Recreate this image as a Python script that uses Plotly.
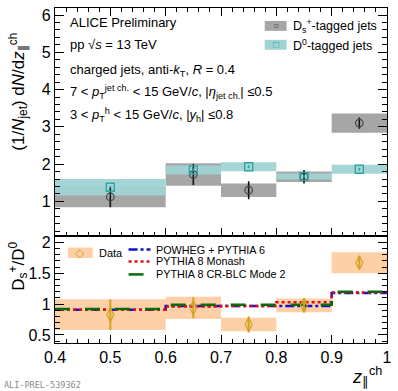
import plotly.graph_objects as go

# bins in z_||^ch
bin_lo = [0.4, 0.6, 0.7, 0.8, 0.9]
bin_hi = [0.6, 0.7, 0.8, 0.9, 1.0]
edges = [0.4, 0.6, 0.7, 0.8, 0.9, 1.0]

# top panel: normalised distributions
ds_val = [1.12, 1.72, 1.30, 1.66, 3.10]
ds_stat = [0.28, 0.28, 0.24, 0.18, 0.15]
ds_syst = [0.28, 0.30, 0.18, 0.14, 0.26]
d0_val = [1.38, 1.84, 1.93, 1.67, 1.86]
d0_stat = [0.03, 0.04, 0.04, 0.04, 0.04]
d0_syst = [0.22, 0.12, 0.12, 0.08, 0.12]

# bottom panel: Ds+/D0 ratio
ratio_val = [0.83, 0.94, 0.67, 0.98, 1.67]
ratio_stat = [0.25, 0.17, 0.13, 0.11, 0.10]
ratio_syst = [0.25, 0.18, 0.11, 0.11, 0.17]

# model predictions (step per bin)
powheg = [0.91, 0.97, 0.97, 0.97, 1.18]
monash = [0.91, 0.96, 0.97, 1.03, 1.19]
crblc = [0.92, 0.99, 0.99, 0.99, 1.20]

centers = [(a + b) / 2 for a, b in zip(bin_lo, bin_hi)]
widths = [b - a for a, b in zip(bin_lo, bin_hi)]

FONT = "Liberation Sans, Arial, sans-serif"
GRAY = "#a6a6a6"
CYAN = "#a1d3d3"
TEAL = "#2fa6a6"
ORANGE = "#fdd0a8"
GOLD = "#d4a21a"

# plot-area pixel frame (for placing text/legend)
L, R, T, B = 55, 389, 6, 343


def px(x):
    return (x - L) / (R - L)


def py(y):
    return (B - y) / (B - T)


fig = go.Figure()

# --- top panel ---
fig.add_trace(go.Bar(x=centers, y=[2 * s for s in ds_syst],
                     base=[v - s for v, s in zip(ds_val, ds_syst)],
                     width=widths, marker=dict(color=GRAY, line_width=0),
                     xaxis="x", yaxis="y"))
fig.add_trace(go.Bar(x=centers, y=[2 * s for s in d0_syst],
                     base=[v - s for v, s in zip(d0_val, d0_syst)],
                     width=widths, marker=dict(color=CYAN, line_width=0),
                     opacity=0.95, xaxis="x", yaxis="y"))
fig.add_trace(go.Scatter(x=centers, y=ds_val, mode="markers",
                         marker=dict(symbol="circle-open", size=7.5, color="#444",
                                     line=dict(width=1.2, color="#444")),
                         error_y=dict(type="data", array=ds_stat, width=0,
                                      thickness=1.6, color="#111"),
                         xaxis="x", yaxis="y"))
fig.add_trace(go.Scatter(x=centers, y=d0_val, mode="markers",
                         marker=dict(symbol="square-open", size=8, color=TEAL,
                                     line=dict(width=1.4, color=TEAL)),
                         error_y=dict(type="data", array=d0_stat, width=0,
                                      thickness=1.6, color=TEAL),
                         xaxis="x", yaxis="y"))

# --- bottom panel ---
fig.add_trace(go.Bar(x=centers, y=[2 * s for s in ratio_syst],
                     base=[v - s for v, s in zip(ratio_val, ratio_syst)],
                     width=widths, marker=dict(color=ORANGE, line_width=0),
                     xaxis="x2", yaxis="y2"))
for vals, col, dash in [(powheg, "#1010d0", "dashdot"),
                        (monash, "#e01010", "dot"),
                        (crblc, "#0a6a0a", "longdash")]:
    fig.add_trace(go.Scatter(x=edges, y=vals + [vals[-1]], mode="lines",
                             line=dict(shape="hv", color=col, width=2.5, dash=dash),
                             xaxis="x2", yaxis="y2"))
fig.add_trace(go.Scatter(x=centers, y=ratio_val, mode="markers",
                         marker=dict(symbol="diamond-tall-open", size=10, color=GOLD,
                                     line=dict(width=1.2, color=GOLD)),
                         error_y=dict(type="data", array=ratio_stat, width=0,
                                      thickness=2, color=GOLD),
                         xaxis="x2", yaxis="y2"))

split = (B - 235) / (B - T)
axcommon = dict(showline=True, linecolor="black", linewidth=1.2, ticks="inside",
                tickcolor="black", showgrid=False, zeroline=False,
                tickfont=dict(family=FONT, size=16, color="black"))

fig.update_layout(
    width=398, height=391, barmode="overlay", showlegend=False,
    plot_bgcolor="white", paper_bgcolor="white",
    margin=dict(l=L, r=398 - R, t=T, b=391 - B),
    font=dict(family=FONT, color="black"),
    xaxis=dict(domain=[0, 1], range=[0.4, 1.0], anchor="y", dtick=0.1,
               ticklen=8, showticklabels=False, mirror="allticks",
               minor=dict(dtick=0.02, ticklen=4, ticks="inside", tickcolor="black"),
               **axcommon),
    yaxis=dict(domain=[split, 1], range=[0.08, 6.19], anchor="x", dtick=1,
               ticklen=9, mirror="allticks", tickvals=[1, 2, 3, 4, 5, 6],
               minor=dict(dtick=0.2, ticklen=5, ticks="inside", tickcolor="black"),
               **axcommon),
    xaxis2=dict(domain=[0, 1], range=[0.4, 1.0], anchor="y2", dtick=0.1,
                ticklen=8, mirror=True,
                tickvals=[0.4, 0.5, 0.6, 0.7, 0.8, 0.9, 1.0],
                ticktext=["0.4", "0.5", "0.6", "0.7", "0.8", "0.9", "1"],
                minor=dict(dtick=0.02, ticklen=4, ticks="inside", tickcolor="black"),
                **axcommon),
    yaxis2=dict(domain=[0, split], range=[0.37, 2.11], anchor="x2",
                tickvals=[0.5, 1, 1.5, 2], ticktext=["0.5", "1", "1.5", "2"],
                ticklen=9, mirror="allticks",
                minor=dict(dtick=0.1, ticklen=5, ticks="inside", tickcolor="black"),
                **axcommon),
)

ann = []


def text(x, y, s, size=13, xanchor="left", **kw):
    ann.append(dict(x=px(x), y=py(y), xref="paper", yref="paper", text=s,
                    showarrow=False, xanchor=xanchor, yanchor="middle",
                    font=dict(family=kw.pop("family", FONT), size=size,
                              color=kw.pop("color", "black")), **kw))


# info text
text(68, 21, "ALICE Preliminary")
text(68, 43, "pp &#8730;<i>s</i> = 13 TeV")
text(68, 69, "charged jets, anti-<i>k</i><sub>T</sub>, <i>R</i> = 0.4")
text(68, 91, "7 &lt; <i>p</i><sub>T</sub><sup>jet ch.</sup> &lt; 15 GeV/<i>c</i>, |<i>&#951;</i><sub>jet ch.</sub>| &#8804;0.5")
text(68, 114, "3 &lt; <i>p</i><sub>T</sub><sup>h</sup> &lt; 15 GeV/<i>c</i>, |<i>y</i><sub>h</sub>| &#8804;0.8")

# top legend
for y0, col, sym, lab in [(24, GRAY, "&#9675;", "D<sub>s</sub><sup>+</sup>-tagged jets"),
                          (43, CYAN, "&#9633;", "D<sup>0</sup>-tagged jets")]:
    fig.add_shape(type="rect", xref="paper", yref="paper", x0=px(266), x1=px(288),
                  y0=py(y0 - 5), y1=py(y0 + 5), fillcolor=col, line_width=0, layer="above")
    text(277, y0, sym, size=10, xanchor="center", color="#444" if col == GRAY else TEAL)
    text(292, y0, lab, size=12.5)

# bottom legend
fig.add_shape(type="rect", xref="paper", yref="paper", x0=px(68), x1=px(93),
              y0=py(247), y1=py(257.5), fillcolor=ORANGE, line_width=0, layer="above")
text(80.5, 252, "&#9671;", size=12, xanchor="center", color=GOLD)
text(97, 252, "Data", size=11)
for y0, col, dash, lab in [(249, "#1010d0", "dashdot", "POWHEG + PYTHIA 6"),
                           (261, "#e01010", "dot", "PYTHIA 8 Monash"),
                           (274, "#0a6a0a", "longdash", "PYTHIA 8 CR-BLC Mode 2")]:
    fig.add_shape(type="line", xref="paper", yref="paper", x0=px(129), x1=px(151),
                  y0=py(y0), y1=py(y0), line=dict(color=col, width=2.5, dash=dash))
    text(155, y0, lab, size=10.8)

# axis titles
ann.append(dict(x=px(18), y=py(90), xref="paper", yref="paper", showarrow=False,
                text="(1/<i>N</i><sub>jet</sub>) d<i>N</i>/d<i>z</i><sub>&#8741;</sub><sup>ch</sup>",
                textangle=-90, xanchor="center", yanchor="middle",
                font=dict(family=FONT, size=17, color="black")))
ann.append(dict(x=px(18), y=py(266), xref="paper", yref="paper", showarrow=False,
                text="D<sub>s</sub><sup>+</sup>/D<sup>0</sup>",
                textangle=-90, xanchor="center", yanchor="middle",
                font=dict(family=FONT, size=17, color="black")))
ann.append(dict(x=px(386), y=py(377), xref="paper", yref="paper", showarrow=False,
                text="<i>z</i><sub>&#8741;</sub><sup>ch</sup>",
                xanchor="right", yanchor="middle",
                font=dict(family=FONT, size=18, color="black")))
ann.append(dict(x=px(2), y=py(385), xref="paper", yref="paper", showarrow=False,
                text="ALI-PREL-539362", xanchor="left", yanchor="middle",
                font=dict(family="DejaVu Sans Mono", size=8.5, color="#8a8a8a")))

fig.update_layout(annotations=ann)
fig.write_html("out.html", config={"displayModeBar": False},
               post_script="document.body.style.margin='0px';")
